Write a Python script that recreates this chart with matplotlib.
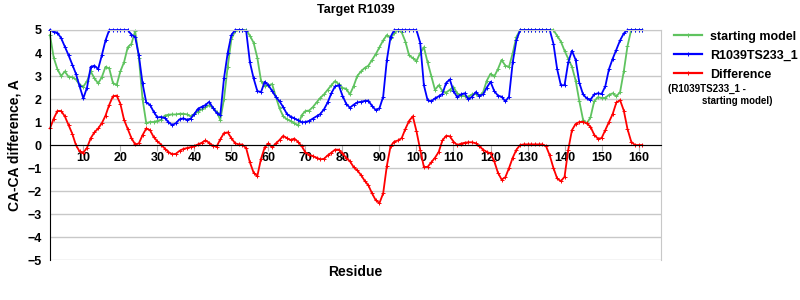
import numpy as np
import matplotlib
matplotlib.use('Agg')
import matplotlib.pyplot as plt
from matplotlib.lines import Line2D

plt.rcParams['font.family'] = ['Liberation Sans', 'DejaVu Sans']
plt.rcParams['font.weight'] = 'bold'

# residues 1..161
starting_model = [
    4.78, 3.8, 3.3, 3.0, 3.2, 2.97, 2.95, 2.85, 2.62, 2.54,
    2.78, 3.2, 2.9, 2.68, 2.95, 3.4, 3.33, 2.7, 2.6, 3.2,
    3.6, 4.25, 4.4, 4.95, 3.8, 2.0, 0.95, 1.0, 1.0, 1.05,
    1.1, 1.28, 1.32, 1.33, 1.33, 1.36, 1.36, 1.33, 1.25, 1.35,
    1.45, 1.55, 1.65, 1.73, 1.62, 1.45, 1.1, 2.0, 3.4, 4.6,
    4.95, 5.0, 5.0, 5.0, 4.75, 4.45, 3.8, 2.8, 2.55, 2.6,
    2.65, 2.1, 1.6, 1.25, 1.12, 1.05, 0.95, 0.85, 1.3, 1.48,
    1.5, 1.65, 1.85, 2.05, 2.2, 2.4, 2.6, 2.78, 2.65, 2.48,
    2.45, 2.2, 2.55, 3.0, 3.2, 3.35, 3.45, 3.7, 3.95, 4.25,
    4.55, 4.78, 4.65, 4.85, 5.0, 4.9, 4.5, 3.9, 3.78, 3.65,
    4.0, 4.25, 3.6, 3.0, 2.4, 2.6, 2.35, 2.28, 2.4, 2.52,
    2.25, 2.15, 2.12, 2.1, 2.2, 2.22, 2.12, 2.3, 2.8, 3.1,
    2.98, 3.3, 3.7, 3.45, 3.4, 4.0, 4.7, 5.0, 5.0, 5.0,
    5.0, 5.0, 5.0, 5.0, 5.0, 5.0, 5.0, 4.75, 4.5, 4.1,
    3.75, 3.4, 2.8, 1.9, 1.1, 0.94, 1.2, 1.9, 2.08, 2.05,
    2.05, 2.18, 2.25, 2.12, 2.3, 3.2, 4.3, 5.0, 5.0, 5.0,
    5.0,
]

model_ts233 = [
    5.0, 4.93, 4.88, 4.65, 4.28, 3.91, 3.5, 3.1, 2.55, 2.03,
    2.5, 3.4, 3.45, 3.3, 3.9, 4.55, 5.0, 5.0, 5.0, 5.0,
    5.0, 5.0, 4.8, 4.7, 3.9, 2.68, 1.85, 1.75, 1.45, 1.2,
    1.22, 1.18, 1.0, 0.87, 0.95, 1.12, 1.16, 1.1, 1.15, 1.35,
    1.58, 1.66, 1.74, 1.88, 1.62, 1.4, 1.3, 2.9, 4.0, 4.78,
    5.0, 5.0, 5.0, 4.95, 3.6, 2.9, 2.35, 2.3, 2.75, 2.6,
    2.35, 2.1, 1.9, 1.65, 1.35, 1.24, 1.16, 1.08, 0.99, 1.0,
    1.05, 1.15, 1.25, 1.35, 1.55, 1.85, 2.25, 2.55, 2.6, 2.15,
    1.8, 1.62, 1.75, 1.85, 1.88, 1.92, 1.93, 1.7, 1.52, 1.6,
    2.1, 3.7, 4.7, 5.0, 5.0, 5.0, 5.0, 5.0, 5.0, 5.0,
    4.45, 2.6, 1.95, 1.9, 2.03, 2.12, 2.22, 2.7, 2.85, 2.35,
    2.08, 2.2, 2.25, 1.98, 2.1, 2.3, 2.15, 2.2, 2.5, 2.75,
    2.35, 2.15, 2.1, 1.9, 2.1, 3.6, 4.55, 5.0, 5.0, 5.0,
    5.0, 5.0, 5.0, 5.0, 5.0, 5.0, 4.4, 3.3, 2.6, 2.6,
    3.6, 4.1, 3.7, 2.7, 2.2, 2.03, 1.97, 2.2, 2.25, 2.22,
    2.55, 3.3, 3.75, 4.15, 4.55, 4.85, 5.0, 5.0, 5.0, 5.0,
    5.0,
]

difference = [
    0.72, 1.15, 1.48, 1.48, 1.25, 0.87, 0.5, 0.0, -0.28, -0.33,
    -0.12, 0.3, 0.55, 0.72, 0.95, 1.28, 1.75, 2.12, 2.15, 1.8,
    1.1, 0.7, 0.3, 0.03, 0.07, 0.43, 0.72, 0.65, 0.35, 0.16,
    0.02, -0.15, -0.3, -0.4, -0.38, -0.25, -0.17, -0.13, -0.09, -0.04,
    0.03, 0.1, 0.2, 0.1, -0.03, -0.07, 0.25, 0.52, 0.55, 0.3,
    0.08, 0.03, 0.02, -0.14, -0.75, -1.2, -1.35, -0.6, -0.1, 0.07,
    -0.1, 0.07, 0.22, 0.4, 0.3, 0.22, 0.28, 0.14, -0.05, -0.32,
    -0.42, -0.48, -0.55, -0.62, -0.6, -0.45, -0.33, -0.2, -0.2, -0.36,
    -0.55, -0.7, -0.95, -1.1, -1.3, -1.55, -1.75, -2.1, -2.4, -2.52,
    -2.1, -0.9, -0.05, 0.15, 0.2, 0.3, 0.7, 1.05, 1.25, 0.6,
    -0.2, -0.95, -0.95, -0.75, -0.55, -0.3, 0.2, 0.4, 0.38, 0.15,
    0.0, 0.06, 0.1, 0.12, 0.12, 0.08, -0.05, -0.2, -0.3, -0.36,
    -0.7, -1.2, -1.5, -1.4, -1.0, -0.55, -0.2, 0.0, 0.03, 0.03,
    0.03, 0.03, 0.03, 0.03, -0.05, -0.45, -1.0, -1.45, -1.57, -1.38,
    -0.2, 0.65, 0.92, 1.0, 1.01, 0.94, 0.8, 0.45, 0.28, 0.3,
    0.65, 1.0, 1.35, 1.85, 1.95, 1.5, 0.7, 0.15, 0.0, 0.0,
    0.0,
]

residues = np.arange(1, len(difference) + 1)
x_ticks = list(range(10, 161, 10))
y_ticks = list(range(-5, 6))

GREEN = '#5fc35f'
BLUE = '#0000ff'
RED = '#ff0000'

fig = plt.figure(figsize=(8, 3), dpi=100)
ax = fig.add_axes([0.0625, 0.133, 0.7635, 0.767])

style = dict(lw=1.3, marker='+', ms=3, mew=0.7, clip_on=False)
ax.plot(residues, starting_model, color=GREEN, **style)
ax.plot(residues, model_ts233, color=BLUE, **style)
ax.plot(residues, difference, color=RED, **style)

ax.set_xlim(1, 166)
ax.set_ylim(-5, 5)
ax.set_yticks(y_ticks)
ax.set_yticklabels([str(v).replace('-', '\u2212') for v in y_ticks])
ax.set_xticks(x_ticks)
ax.set_xticklabels([str(v) for v in x_ticks])
ax.grid(axis='y', color='#c8c8c8', lw=1)
ax.set_axisbelow(True)

ax.spines['bottom'].set_position(('data', 0))
ax.spines['bottom'].set_color('black')
ax.spines['left'].set_color('black')
ax.spines['top'].set_color('#c8c8c8')
ax.spines['right'].set_color('#c8c8c8')
ax.tick_params(axis='x', length=4, color='#b0b0b0', labelsize=9, pad=1)
ax.tick_params(axis='y', length=0, labelsize=9, pad=6)
for lab in ax.get_xticklabels() + ax.get_yticklabels():
    lab.set_fontweight('bold')

ax.set_title('Target R1039', fontsize=9, fontweight='bold', pad=12)
ax.set_ylabel('CA-CA difference, A', fontsize=10, fontweight='bold', labelpad=4)
fig.text(0.444, 0.095, 'Residue', ha='center', va='center', fontsize=10, fontweight='bold')

handles = [Line2D([], [], color=c, lw=1.6, marker='+', ms=3, mew=0.7) for c in (GREEN, BLUE, RED)]
leg = fig.legend(handles, ['starting model', 'R1039TS233_1', 'Difference'],
                 loc='upper left', bbox_to_anchor=(0.828, 0.935), frameon=False,
                 handlelength=2.3, handletextpad=0.6, labelspacing=0.55,
                 prop={'size': 9, 'weight': 'bold'})
fig.text(0.835, 0.703, '(R1039TS233_1 -', fontsize=7, fontweight='bold', va='center')
fig.text(0.877, 0.663, 'starting model)', fontsize=7, fontweight='bold', va='center')

fig.savefig('out.png', dpi=100)
